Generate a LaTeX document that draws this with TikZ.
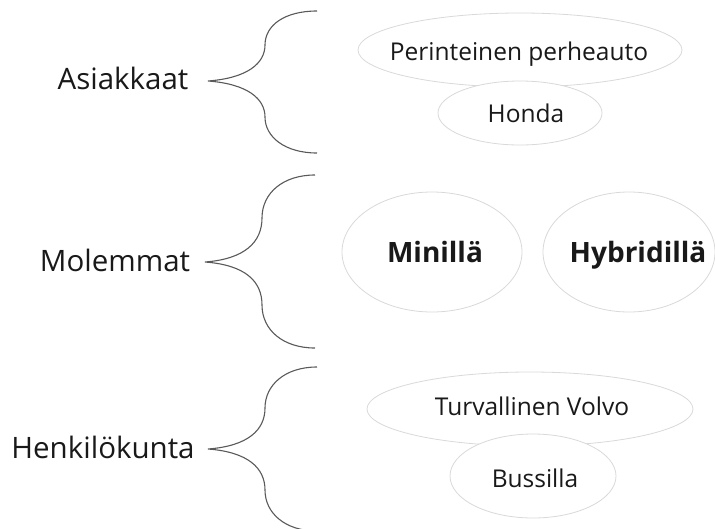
\documentclass[tikz,border=0pt]{standalone}
\usepackage{fontspec}
\setmainfont{Open Sans}
\usetikzlibrary{shapes.geometric}

\begin{document}
\begin{tikzpicture}[x=1pt,y=-1pt,
  oval/.style={ellipse,draw=black!15,fill=white,line width=0.8pt,inner sep=0pt},
  car/.style={anchor=base,text=black!90,font=\fontsize{24.5}{28}\selectfont},
  bigcar/.style={car,font=\fontsize{28}{32}\selectfont\bfseries},
  kind/.style={anchor=base,text=black!90,font=\fontsize{29.5}{34}\selectfont},
  brace/.style={draw=black!65,line width=1.1pt}]
\useasboundingbox (0,0) rectangle (715,528);
% ryhmat
\node[kind] (asiakkaat) at (123,89) {Asiakkaat};
\node[kind] (molemmat) at (115,271) {Molemmat};
\node[kind] (henkilokunta) at (103,458) {Henkilökunta};
% aaltosulkeet
\coordinate (a0) at (208,81);
\coordinate (a1) at (317,11);
\coordinate (a2) at (317,153);
\coordinate (m0) at (205,262);
\coordinate (m1) at (315,175);
\coordinate (m2) at (315,348);
\coordinate (h0) at (208,449);
\coordinate (h1) at (317,367);
\coordinate (h2) at (317,531);
\draw[brace] (a1) .. controls +(-32,0) and +(0,-20) .. (265,45)
  .. controls +(0,18) and +(40,-3) .. (a0)
  .. controls +(40,3) and +(0,-18) .. (265,117)
  .. controls +(0,20) and +(-32,0) .. (a2);
\draw[brace] (m1) .. controls +(-32,0) and +(0,-25) .. (262,218)
  .. controls +(0,24) and +(40,-3) .. (m0)
  .. controls +(40,3) and +(0,-24) .. (262,305)
  .. controls +(0,25) and +(-32,0) .. (m2);
\draw[brace] (h1) .. controls +(-32,0) and +(0,-23) .. (265,408)
  .. controls +(0,22) and +(40,-3) .. (h0)
  .. controls +(40,3) and +(0,-22) .. (265,490)
  .. controls +(0,23) and +(-32,0) .. (h2);
% autot
\node[oval,minimum width=324pt,minimum height=74pt] (perheauto) at (520,50) {};
\node[car] (perheauto-t) at (519,60) {Perinteinen perheauto};
\node[oval,minimum width=164pt,minimum height=64pt] (honda) at (520,113) {};
\node[car] (honda-t) at (526,122) {Honda};
\node[oval,minimum width=180pt,minimum height=120pt] (minilla) at (432,252) {};
\node[bigcar] (minilla-t) at (435,262) {Minillä};
\node[oval,minimum width=172pt,minimum height=120pt] (hybridilla) at (629,252) {};
\node[bigcar] (hybridilla-t) at (638,262) {Hybridillä};
\node[oval,minimum width=326pt,minimum height=74pt] (volvo) at (530,409) {};
\node[car] (volvo-t) at (532,415) {Turvallinen Volvo};
\node[oval,minimum width=166pt,minimum height=84pt] (bussilla) at (533,476) {};
\node[car] (bussilla-t) at (535,487) {Bussilla};
\end{tikzpicture}
\end{document}
